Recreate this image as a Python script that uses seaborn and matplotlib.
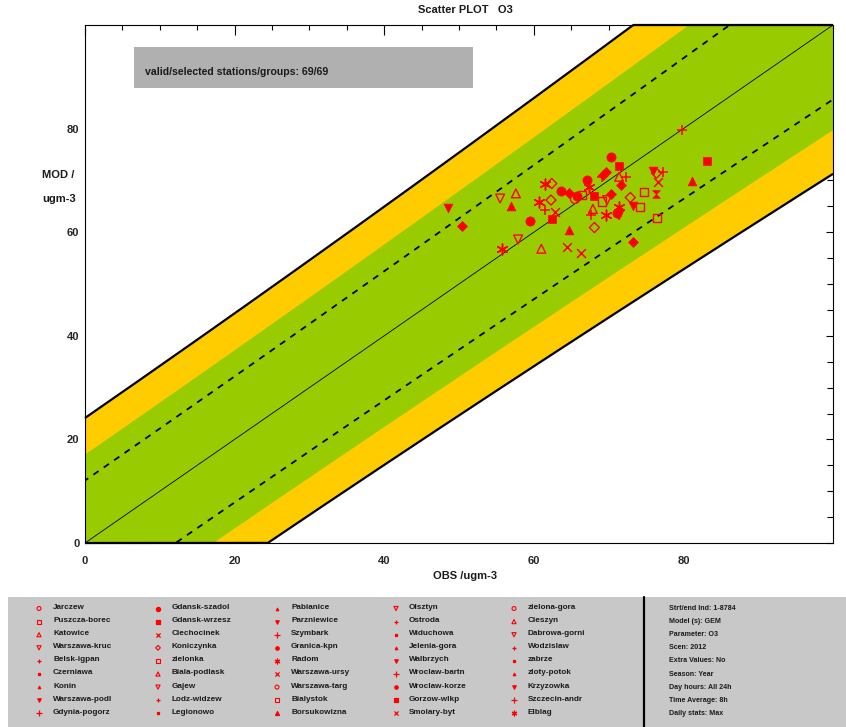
import numpy as np
import pandas as pd
import matplotlib
matplotlib.use("Agg")
import matplotlib.pyplot as plt
import seaborn as sns
from matplotlib.patches import Rectangle
from matplotlib.path import Path

sns.set_style("white")
plt.rcParams['font.family'] = ['Liberation Sans', 'DejaVu Sans']
plt.rcParams['font.weight'] = 'bold'

# ---- station results: observed vs modelled 8h daily max O3 (ugm-3) ----
obs = [48.5, 50.4, 55.5, 57.6, 56.9, 55.7, 57.9, 59.5, 61.0, 60.7,
       61.5, 62.4, 62.3, 61.5, 62.9, 62.4, 63.6, 64.7, 64.4, 66.3,
       64.7, 65.8, 65.5, 66.4, 67.1, 67.4, 68.1, 67.9, 67.6, 68.1,
       69.1, 69.6, 69.2, 70.3, 71.4, 71.4, 72.3, 71.6, 69.1, 69.8,
       70.3, 69.6, 71.1, 71.4, 71.4, 72.9, 73.2, 74.7, 74.2, 73.3,
       75.9, 76.4, 77.3, 76.6, 76.3, 76.5, 79.8, 81.2, 83.2]
mod = [64.7, 61.2, 66.5, 67.5, 65.1, 56.7, 58.6, 62.2, 56.8, 65.8,
       69.3, 69.4, 66.2, 64.2, 63.9, 62.5, 68.0, 67.5, 57.1, 56.0,
       60.4, 66.9, 66.4, 67.2, 70.1, 68.8, 66.9, 64.5, 63.3, 60.9,
       70.6, 71.6, 71.1, 74.5, 72.8, 70.7, 70.7, 69.1, 65.9, 66.2,
       67.3, 63.4, 63.8, 64.9, 63.3, 66.7, 65.1, 67.8, 64.9, 58.2,
       71.9, 71.4, 71.6, 69.7, 67.3, 62.8, 79.7, 69.9, 73.7]
symbol = ['v_f', 'D_f', 'v_o', '^_o', '^_f', 'star', 'v_o', 'o_f', '^_o', 'star',
          'star', 'D_o', 'D_o', 'plus', 'x', 's_f', 'o_f', 'D_f', 'x', 'x',
          '^_f', 'o_f', 'o_o', 's_o', 'o_f', 'star', 's_f', '^_o', 'plus', 'D_o',
          'plus', 'D_f', 'D_f', 'o_f', 's_f', '^_o', 'plus', 'D_f', 's_o', 'v_o',
          'D_f', 'star', 'o_f', 'star', 'v_o', 'D_o', 'v_f', 's_o', 's_o', 'D_f',
          'v_f', 'D_o', 'plus', 'x', 'hour', 's_o', 'plus', '^_f', 's_f']

# ---- legend entries ----
stations = ['Jarczew', 'Puszcza-borec', 'Katowice', 'Warszawa-kruc', 'Belsk-igpan',
            'Czerniawa', 'Konin', 'Warszawa-podl', 'Gdynia-pogorz',
            'Gdansk-szadol', 'Gdansk-wrzesz', 'Ciechocinek', 'Koniczynka', 'zielonka',
            'Biala-podlask', 'Gajew', 'Lodz-widzew', 'Legionowo',
            'Pabianice', 'Parzniewice', 'Szymbark', 'Granica-kpn', 'Radom',
            'Warszawa-ursy', 'Warszawa-targ', 'Bialystok', 'Borsukowizna',
            'Olsztyn', 'Ostroda', 'Widuchowa', 'Jelenia-gora', 'Walbrzych',
            'Wroclaw-bartn', 'Wroclaw-korze', 'Gorzow-wlkp', 'Smolary-byt',
            'zielona-gora', 'Cieszyn', 'Dabrowa-gorni', 'Wodzislaw', 'zabrze',
            'zloty-potok', 'Krzyzowka', 'Szczecin-andr', 'Elblag']
station_symbol = ['o_o', 's_o', '^_o', 'v_o', 'plus_s', 's_s', '^_t', 'v_s', 'plus',
                  'o_f', 's_f', 'x', 'D_o', 's_o', '^_o', 'v_o', 'plus_s', 's_s',
                  '^_t', 'v_s', 'plus', 'o_s', 'star', 'x', 'o_o', 's_o', '^_s',
                  'v_o', 'plus_s', 's_s', '^_t', 'v_s', 'plus', 'o_s', 's_f', 'x',
                  'o_o', '^_o', 'v_o', 'plus_s', 's_s', '^_t', 'v_s', 'plus', 'star']

info_lines = ['Strt/end Ind: 1-8784', 'Model (s): GEM', 'Parameter: O3', 'Scen: 2012',
              'Extra Values: No', 'Season: Year', 'Day hours: All 24h',
              'Time Average: 8h', 'Daily stats: Max']

title = 'Scatter PLOT   O3'
summary = 'valid/selected stations/groups: 69/69'

# measurement uncertainty model for O3
U_RV, ALPHA, RV = 0.18, 0.79, 120.0


def unc(o):
    return U_RV * np.sqrt((1 - ALPHA ** 2) * o ** 2 + (ALPHA * RV) ** 2)


hourglass = Path([(-1, 1), (1, 1), (-1, -1), (1, -1), (-1, 1)],
                 [Path.MOVETO, Path.LINETO, Path.LINETO, Path.LINETO, Path.CLOSEPOLY])

# symbol kind -> (marker, filled, size)
STYLE = {
    'o_f': ('o', True, 44), 'o_o': ('o', False, 40),
    's_f': ('s', True, 36), 's_o': ('s', False, 36),
    '^_f': ('^', True, 40), '^_o': ('^', False, 40),
    'v_f': ('v', True, 40), 'v_o': ('v', False, 40),
    'D_f': ('D', True, 26), 'D_o': ('D', False, 26),
    'plus': ('+', None, 60), 'x': ('x', None, 40),
    'star': ((6, 2, 0), None, 60), 'hour': (hourglass, True, 30),
}
LEG_STYLE = {
    'o_f': ('o', True, 9), 'o_o': ('o', False, 8), 'o_s': ('o', True, 6),
    's_f': ('s', True, 9), 's_o': ('s', False, 8), 's_s': ('s', True, 4),
    '^_o': ('^', False, 9), '^_s': ('^', True, 8), '^_t': ('^', True, 3),
    'v_o': ('v', False, 9), 'v_s': ('v', True, 6),
    'D_o': ('D', False, 6),
    'plus': ('+', None, 14), 'plus_s': ('+', None, 7),
    'x': ('x', None, 9), 'star': ((6, 2, 0), None, 12),
}

W, H = 846, 727
fig = plt.figure(figsize=(W / 100, H / 100), dpi=100)

# ---- legend / info panel (pixel coordinates) ----
lax = fig.add_axes([0, 0, 1, 1], zorder=0)
lax.set_xlim(0, W)
lax.set_ylim(H, 0)
lax.axis('off')
lax.add_patch(Rectangle((8, 597), W - 8, H - 597, color='#c8c8c8', lw=0))
lax.plot([644, 644], [597, H], color='black', lw=1.6)

marker_x = [39, 158, 277, 396, 514]
text_x = [53, 172, 291, 409, 528]
row_y = [607.5 + 13.1 * i for i in range(9)]
for i, (name, kind) in enumerate(zip(stations, station_symbol)):
    col, row = divmod(i, 9)
    m, filled, s = LEG_STYLE[kind]
    if filled is False:
        lax.scatter([marker_x[col]], [row_y[row] + 1], marker=m, s=s, fc='none',
                    ec='red', lw=0.8)
    else:
        lax.scatter([marker_x[col]], [row_y[row] + 1], marker=m, s=s, color='red',
                    lw=0.9)
    lax.text(text_x[col], row_y[row], name, fontsize=5.9, weight='bold',
             color='#1a1a1a', va='center', ha='left')
for i, line in enumerate(info_lines):
    lax.text(669, row_y[i] + 1, line, fontsize=5.1, weight='bold',
             color='#1a1a1a', va='center', ha='left')

# ---- scatter axes ----
ax = fig.add_axes([85 / W, 1 - 543 / H, 748 / W, 518 / H], zorder=2)
ax.set_xlim(0, 100)
ax.set_ylim(0, 100)

o = np.linspace(-10, 110, 500)
u = unc(o)
k_out = np.sqrt(2)
ax.fill_between(o, o - k_out * u, o + k_out * u, color='#ffcc00', lw=0, zorder=1)
ax.fill_between(o, o - u, o + u, color='#99cc00', lw=0, zorder=2)

# outer boundaries, traced along the frame where they leave the plot
oc = np.linspace(0, 100, 500)
uc = unc(oc)
ax.plot(oc, np.clip(oc + k_out * uc, 0, 100), color='black', lw=1.6, zorder=3,
        clip_on=False, solid_capstyle='butt')
ax.plot(oc, np.clip(oc - k_out * uc, 0, 100), color='black', lw=1.6, zorder=3,
        clip_on=False, solid_capstyle='butt')
for sgn in (1, -1):
    ax.plot(o, o + sgn * u / np.sqrt(2), color='black', lw=1.3,
            ls=(0, (3.5, 3.5)), zorder=3)
ax.plot(o, o, color='black', lw=0.6, zorder=3)

df = pd.DataFrame({'obs': obs, 'mod': mod, 'symbol': symbol})
for kind, sub in df.groupby('symbol'):
    m, filled, s = STYLE[kind]
    if filled is False:
        sns.scatterplot(data=sub, x='obs', y='mod', marker=m, s=s, fc='none',
                        ec='red', linewidth=1.0, ax=ax, legend=False, zorder=5)
    elif filled is True:
        sns.scatterplot(data=sub, x='obs', y='mod', marker=m, s=s, color='red',
                        ec='red', linewidth=0.5, ax=ax, legend=False, zorder=5)
    else:
        sns.scatterplot(data=sub, x='obs', y='mod', marker=m, s=s, color='red',
                        linewidth=1.1, ax=ax, legend=False, zorder=5)

ax.add_patch(Rectangle((49 / 748, 455 / 518), 339 / 748, 41 / 518,
                       transform=ax.transAxes, color='#b0b0b0', lw=0, zorder=4))
ax.text(60 / 748, 471 / 518, summary, transform=ax.transAxes, fontsize=7.6,
        weight='bold', va='center', ha='left', color='#1a1a1a', zorder=6)

ax.set_xticks([0, 20, 40, 60, 80])
ax.set_yticks([0, 20, 40, 60, 80])
ax.set_xticks(np.arange(0, 100, 5), minor=True)
ax.set_yticks(np.arange(0, 100, 5), minor=True)
ax.tick_params(axis='both', which='both', direction='in', top=True, right=True,
               width=0.8, color='black')
ax.tick_params(axis='x', which='major', length=7.2, pad=9, labelsize=8)
ax.tick_params(axis='x', which='minor', length=3.6)
ax.tick_params(axis='y', which='major', length=5, pad=4, labelsize=8)
ax.tick_params(axis='y', which='minor', length=4)
for lab in ax.get_xticklabels() + ax.get_yticklabels():
    lab.set_fontweight('bold')
ax.set_xlabel('')
ax.set_ylabel('')
for sp in ax.spines.values():
    sp.set_linewidth(0.8)
    sp.set_color('black')
    sp.set_zorder(6)

fig.text(465 / W, 1 - 10 / H, title, ha='center', va='center', fontsize=8,
         weight='bold', color='#1a1a1a')
fig.text(465 / W, 1 - 576 / H, 'OBS /ugm-3', ha='center', va='center', fontsize=8,
         weight='bold', color='#1a1a1a')
fig.text(42 / W, 1 - 175 / H, 'MOD /', ha='left', va='center', fontsize=8,
         weight='bold', color='#1a1a1a')
fig.text(42 / W, 1 - 199 / H, 'ugm-3', ha='left', va='center', fontsize=8,
         weight='bold', color='#1a1a1a')

fig.savefig('out.png', dpi=100, facecolor='white')
